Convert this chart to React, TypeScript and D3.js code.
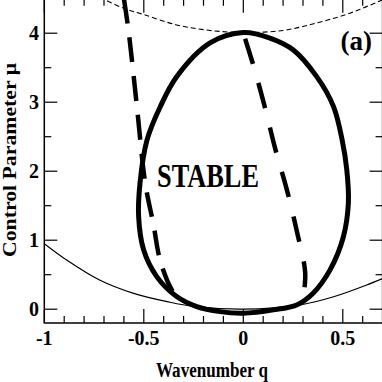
import React from 'react';
import * as d3 from 'd3';

// closed stability boundary (thick solid)
const eggQ = [0, 0.134, 0.25, 0.369, 0.453, 0.497, 0.52, 0.528, 0.503, 0.436, 0.352, 0.268, 0.151, 0, -0.117, -0.234, -0.335, -0.435, -0.501, -0.526, -0.519, -0.484, -0.418, -0.335, -0.167];
const eggMu = [4.01, 3.93, 3.76, 3.37, 2.94, 2.45, 2.02, 1.54, 1.05, 0.57, 0.236, 0.062, -0.01, -0.058, -0.035, 0.038, 0.183, 0.472, 0.86, 1.34, 1.83, 2.45, 2.93, 3.37, 3.86];

// thick dashed lines
const dashLQ = [-0.6, -0.576, -0.534, -0.493, -0.451, -0.418, -0.359, -0.31];
const dashLMu = [4.5, 4.02, 2.92, 1.83, 1.22, 0.71, 0.28, 0.12];
const dashRQ = [0, 0.052, 0.11, 0.16, 0.219, 0.27, 0.311, 0.3];
const dashRMu = [4.0, 3.52, 2.91, 2.33, 1.73, 1.12, 0.53, 0.14];

// thin curves
const topQ = [-0.72, -0.6, -0.5, -0.335, -0.167, 0, 0.2, 0.37, 0.536, 0.72];
const topMu = [4.52, 4.36, 4.27, 4.12, 4.04, 4.01, 4.04, 4.15, 4.29, 4.51];
const botQ = [-1, -0.886, -0.72, -0.551, -0.383, -0.25, 0, 0.286, 0.454, 0.62, 0.72];
const botMu = [0.95, 0.71, 0.42, 0.23, 0.11, 0.04, 0, 0.062, 0.18, 0.35, 0.47];

const xTicks = [-1, -0.5, 0, 0.5];
const xTickLabels = ['-1', '-0.5', '0', '0.5'];
const yTicks = [0, 1, 2, 3, 4];
const yTickLabels = ['0', '1', '2', '3', '4'];

const W = 382;
const H = 382;
const FONT = '"Liberation Serif", "Times New Roman", serif';

export default function App() {
  const x = d3.scaleLinear().domain([-1, 0.7]).range([44.3, 382.6]);
  const y = d3.scaleLinear().domain([-0.2, 4.5]).range([323, -1.3]);
  const [x0, x1] = x.range();
  const [y0, y1] = y.range();

  const pts = (qs: number[], ms: number[]) => qs.map((q, i) => [q, ms[i]] as [number, number]);
  const line = d3.line<[number, number]>().x(d => x(d[0])).y(d => y(d[1])).curve(d3.curveCatmullRom);
  const closed = d3.line<[number, number]>().x(d => x(d[0])).y(d => y(d[1])).curve(d3.curveCatmullRomClosed);

  const xMinor = d3.range(-1, 0.71, 0.1).map(v => +v.toFixed(2)).filter(v => !xTicks.includes(v));
  const yMinor = d3.range(0.5, 4.51, 1);

  return (
    <svg width={W} height={H} style={{ position: 'fixed', left: 0, top: 0, background: '#fff' }}>
      <defs>
        <clipPath id="plot">
          <rect x={x0} y={y1} width={x1 - x0} height={y0 - y1} />
        </clipPath>
      </defs>
      <rect width={W} height={H} fill="#fff" />

      <g clipPath="url(#plot)" fill="none" stroke="#000">
        <path d={line(pts(botQ, botMu)) || ''} strokeWidth={1.2} />
        <path d={line(pts(topQ, topMu)) || ''} strokeWidth={1.1} strokeDasharray="5,3" />
        <path d={line(pts(dashLQ, dashLMu)) || ''} strokeWidth={4.5} strokeDasharray="25,14" />
        <path d={line(pts(dashRQ, dashRMu)) || ''} strokeWidth={4.5} strokeDasharray="0,6,26,14" />
        <path d={closed(pts(eggQ, eggMu)) || ''} strokeWidth={5} />
      </g>

      {/* frame */}
      <rect x={x0} y={y1} width={x1 - x0} height={y0 - y1} fill="none" stroke="#000" strokeWidth={1.5} />

      {/* ticks */}
      <g stroke="#000" strokeWidth={1.2}>
        {xTicks.map(t => (
          <g key={'xt' + t}>
            <line x1={x(t)} x2={x(t)} y1={y0} y2={y0 - 14} />
            <line x1={x(t)} x2={x(t)} y1={y1} y2={y1 + 14} />
          </g>
        ))}
        {xMinor.map(t => (
          <g key={'xm' + t}>
            <line x1={x(t)} x2={x(t)} y1={y0} y2={y0 - 7} />
            <line x1={x(t)} x2={x(t)} y1={y1} y2={y1 + 7} />
          </g>
        ))}
        {yTicks.map(t => (
          <g key={'yt' + t}>
            <line x1={x0} x2={x0 + 13} y1={y(t)} y2={y(t)} />
            <line x1={x1} x2={x1 - 13} y1={y(t)} y2={y(t)} />
          </g>
        ))}
        {yMinor.map(t => (
          <g key={'ym' + t}>
            <line x1={x0} x2={x0 + 7} y1={y(t)} y2={y(t)} />
            <line x1={x1} x2={x1 - 7} y1={y(t)} y2={y(t)} />
          </g>
        ))}
      </g>

      <g fontFamily={FONT} fontWeight="bold" fontSize={20} fill="#000">
        {xTicks.map((t, i) => (
          <text key={'xl' + t} x={x(t)} y={345} textAnchor="middle">{xTickLabels[i]}</text>
        ))}
        {yTicks.map((t, i) => (
          <text key={'yl' + t} x={39} y={y(t) + 7} textAnchor="end">{yTickLabels[i]}</text>
        ))}
      </g>

      <text x={212} y={377} textAnchor="middle" fontFamily={FONT} fontWeight="bold" fontSize={20}
        textLength={112} lengthAdjust="spacingAndGlyphs">Wavenumber q</text>
      <text transform="translate(15.5,160) rotate(-90)" textAnchor="middle" fontFamily={FONT} fontWeight="bold"
        fontSize={19} textLength={194} lengthAdjust="spacingAndGlyphs">Control Parameter μ</text>

      <text x={157} y={186.5} fontFamily={FONT} fontWeight="bold" fontSize={34}
        textLength={102} lengthAdjust="spacingAndGlyphs">STABLE</text>
      <text x={372} y={50} textAnchor="end" fontFamily={FONT} fontWeight="bold" fontSize={27}>(a)</text>
    </svg>
  );
}
